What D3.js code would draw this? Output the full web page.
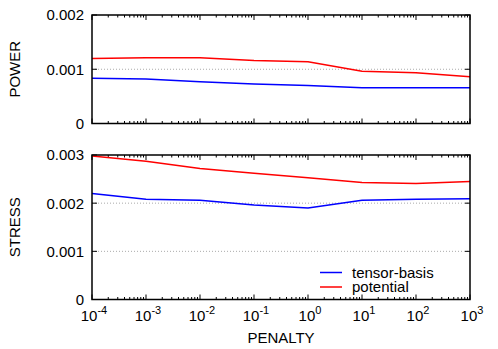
<!DOCTYPE html>
<html>
<head>
<meta charset="utf-8">
<script src="https://cdn.jsdelivr.net/npm/d3@7"></script>
<style>
body { margin: 0; background: #fff; }
text { font-family: "Liberation Sans", Arial, sans-serif; }
</style>
</head>
<body>
<svg id="chart"></svg>
<script>
// penalty values (x axis, log)
const penalty = [1e-4, 1e-3, 1e-2, 1e-1, 1e0, 1e1, 1e2, 1e3];
const xTickExp = [-4, -3, -2, -1, 0, 1, 2, 3];

// POWER panel
const powerTensor = [0.000836, 0.00082, 0.00077, 0.00073, 0.0007, 0.000657, 0.000657, 0.000657];
const powerPotential = [0.0012, 0.00121, 0.00121, 0.00116, 0.00114, 0.000965, 0.000935, 0.00086];
const powerTicks = [0, 0.001, 0.002];

// STRESS panel
const stressTensor = [0.0022, 0.00208, 0.00206, 0.00196, 0.0019, 0.00206, 0.00208, 0.00209];
const stressPotential = [0.00298, 0.00287, 0.00272, 0.00262, 0.00253, 0.00243, 0.00241, 0.00245];
const stressTicks = [0, 0.001, 0.002, 0.003];

const seriesNames = ["tensor-basis", "potential"];
const seriesColors = ["#0000ff", "#ff0000"];

const width = 498, height = 349;
const svg = d3.select("#chart").attr("width", width).attr("height", height);

const left = 92, right = 470;
const fs = 15;
const x = d3.scaleLog().domain([1e-4, 1e3]).range([left, right]);

// minor ticks 2..9 per decade
const minor = [];
for (let e = -4; e < 3; e++) {
    for (let k = 2; k <= 9; k++) minor.push(k * Math.pow(10, e));
}

function panel(top, bottom, yMax, ticks, tickLabels, label, data) {
    const y = d3.scaleLinear().domain([0, yMax]).range([bottom, top]);
    const g = svg.append("g");

    // dotted grid
    g.selectAll("line.grid")
        .data(ticks.filter(t => t > 0 && t < yMax))
        .join("line")
        .attr("x1", left).attr("x2", right)
        .attr("y1", d => y(d)).attr("y2", d => y(d))
        .attr("stroke", "#aaa")
        .attr("stroke-width", 1)
        .attr("stroke-dasharray", "1,2");

    // x ticks, inward top and bottom
    const tickG = g.append("g").attr("stroke", "#000").attr("stroke-width", 1);
    penalty.forEach(v => {
        tickG.append("line").attr("x1", x(v)).attr("x2", x(v)).attr("y1", bottom).attr("y2", bottom - 5);
        tickG.append("line").attr("x1", x(v)).attr("x2", x(v)).attr("y1", top).attr("y2", top + 5);
    });
    minor.forEach(v => {
        tickG.append("line").attr("x1", x(v)).attr("x2", x(v)).attr("y1", bottom).attr("y2", bottom - 2.5);
        tickG.append("line").attr("x1", x(v)).attr("x2", x(v)).attr("y1", top).attr("y2", top + 2.5);
    });
    ticks.forEach(v => {
        tickG.append("line").attr("x1", left).attr("x2", left + 5).attr("y1", y(v)).attr("y2", y(v));
        tickG.append("line").attr("x1", right).attr("x2", right - 5).attr("y1", y(v)).attr("y2", y(v));
    });

    // y tick labels
    g.selectAll("text.ytick")
        .data(ticks)
        .join("text")
        .attr("x", left - 8)
        .attr("y", d => y(d))
        .attr("dy", "0.36em")
        .attr("text-anchor", "end")
        .attr("font-size", fs)
        .text((d, i) => tickLabels[i]);

    // lines
    const line = d3.line().x((d, i) => x(penalty[i])).y(d => y(d));
    data.forEach((s, i) => {
        g.append("path")
            .attr("d", line(s))
            .attr("fill", "none")
            .attr("stroke", seriesColors[i])
            .attr("stroke-width", 1.5);
    });

    // frame
    g.append("rect")
        .attr("x", left).attr("y", top)
        .attr("width", right - left).attr("height", bottom - top)
        .attr("fill", "none")
        .attr("stroke", "#000")
        .attr("stroke-width", 1.5);

    // axis title
    svg.append("text")
        .attr("transform", `translate(20, ${(top + bottom) / 2}) rotate(-90)`)
        .attr("text-anchor", "middle")
        .attr("font-size", fs)
        .text(label);

    return y;
}

panel(15, 123.5, 0.002, powerTicks, ["0", "0.001", "0.002"], "POWER", [powerTensor, powerPotential]);
panel(155, 299.5, 0.003, stressTicks, ["0", "0.001", "0.002", "0.003"], "STRESS", [stressTensor, stressPotential]);

// x tick labels 10^n
const xl = svg.append("g").selectAll("text")
    .data(xTickExp)
    .join("text")
    .attr("x", (d, i) => x(penalty[i]) + 2)
    .attr("y", 321)
    .attr("text-anchor", "middle")
    .attr("font-size", fs);
xl.append("tspan").text("10");
xl.append("tspan").attr("dy", -7).attr("font-size", 11).text(d => d);

svg.append("text")
    .attr("x", 281)
    .attr("y", 343)
    .attr("text-anchor", "middle")
    .attr("font-size", fs)
    .text("PENALTY");

// legend
const legend = svg.append("g").attr("transform", "translate(320, 272.5)");
seriesNames.forEach((n, i) => {
    legend.append("line")
        .attr("x1", 0).attr("x2", 22)
        .attr("y1", i * 14.5).attr("y2", i * 14.5)
        .attr("stroke", seriesColors[i])
        .attr("stroke-width", 1.5);
    legend.append("text")
        .attr("x", 32)
        .attr("y", i * 14.5)
        .attr("dy", "0.36em")
        .attr("font-size", fs)
        .text(n);
});
</script>
</body>
</html>
